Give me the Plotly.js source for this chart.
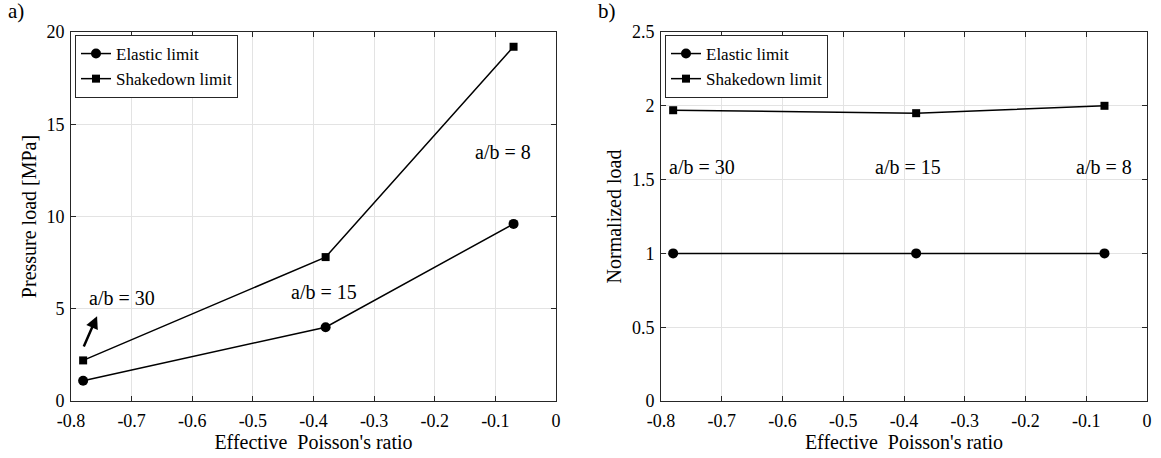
<!DOCTYPE html>
<html><head><meta charset="utf-8">
<script src="https://cdn.plot.ly/plotly-3.0.1.min.js"></script>
<style>body{margin:0;background:#fff}#c{width:1161px;height:458px}</style>
</head><body><div id="c"></div>
<script>
const poisson = [-0.78, -0.38, -0.07];
const elasticLoad = [1.1, 4.0, 9.6];
const shakedownLoad = [2.2, 7.8, 19.2];
const elasticNorm = [1, 1, 1];
const shakedownNorm = [1.97, 1.95, 2.0];
const ratioLabels = ['a/b = 30', 'a/b = 15', 'a/b = 8'];
const xTicks = [-0.8, -0.7, -0.6, -0.5, -0.4, -0.3, -0.2, -0.1, 0];
const xTickText = ['-0.8', '-0.7', '-0.6', '-0.5', '-0.4', '-0.3', '-0.2', '-0.1', '0'];

const font = 'Liberation Serif, Tinos, DejaVu Serif, serif';
const lineS = {color:'#000', width:1.5};
const traces = [
  {x:poisson, y:elasticLoad, mode:'lines+markers', name:'Elastic limit', line:lineS, marker:{symbol:'circle', size:10, color:'#000'}, xaxis:'x', yaxis:'y', legend:'legend'},
  {x:poisson, y:shakedownLoad, mode:'lines+markers', name:'Shakedown limit', line:lineS, marker:{symbol:'square', size:8, color:'#000'}, xaxis:'x', yaxis:'y', legend:'legend'},
  {x:poisson, y:elasticNorm, mode:'lines+markers', name:'Elastic limit', line:lineS, marker:{symbol:'circle', size:10, color:'#000'}, xaxis:'x2', yaxis:'y2', legend:'legend2'},
  {x:poisson, y:shakedownNorm, mode:'lines+markers', name:'Shakedown limit', line:lineS, marker:{symbol:'square', size:8, color:'#000'}, xaxis:'x2', yaxis:'y2', legend:'legend2'}
];
const W = 1161;
const axBase = {showline:true, linecolor:'#262626', linewidth:1, mirror:'ticks', ticks:'inside', ticklen:5, tickcolor:'#262626', showgrid:true, gridcolor:'#e3e3e3', zeroline:false, tickfont:{family:font, size:18, color:'#000'}};
const xBase = Object.assign({}, axBase, {range:[-0.8, 0], tickvals:xTicks, ticktext:xTickText, ticklabelstandoff:3, title:{text:'Effective\u00a0 Poisson\'s ratio', font:{family:font, size:20, color:'#000'}, standoff:0}});
const legBase = {bordercolor:'#262626', borderwidth:1, bgcolor:'#fff', font:{family:font, size:17, color:'#000'}, tracegroupgap:0, itemwidth:30, xanchor:'left', yanchor:'top', xref:'paper', yref:'paper'};
const annFont = {family:font, size:20, color:'#000'};
const layout = {
  width:1161, height:458, paper_bgcolor:'#fff', plot_bgcolor:'#fff',
  margin:{l:0, r:0, t:32, b:57},
  font:{family:font, color:'#000'},
  xaxis: Object.assign({}, xBase, {domain:[71/W, 556/W], anchor:'y'}),
  yaxis: Object.assign({}, axBase, {range:[0, 20], tickvals:[0,5,10,15,20], anchor:'x', ticklabelstandoff:2, title:{text:'Pressure load [MPa]', font:{family:font, size:20, color:'#000'}, standoff:4}}),
  xaxis2: Object.assign({}, xBase, {domain:[661/W, 1147/W], anchor:'y2'}),
  yaxis2: Object.assign({}, axBase, {range:[0, 2.5], anchor:'x2', ticklabelstandoff:2, tickvals:[0,0.5,1,1.5,2,2.5], ticktext:['0','0.5','1','1.5','2','2.5'], title:{text:'Normalized load', font:{family:font, size:20, color:'#000'}, standoff:4}}),
  legend: Object.assign({}, legBase, {x:75/W, y:1-(35-32)/369}),
  legend2: Object.assign({}, legBase, {x:665/W, y:1-(35-32)/369}),
  showlegend:true,
  annotations:[
    {text:'a)', xref:'paper', yref:'paper', x:6/W, y:1+(32-11)/369, xanchor:'left', yanchor:'middle', showarrow:false, font:{family:font, size:21, color:'#000'}},
    {text:'b)', xref:'paper', yref:'paper', x:596/W, y:1+(32-11)/369, xanchor:'left', yanchor:'middle', showarrow:false, font:{family:font, size:21, color:'#000'}},
    {text:ratioLabels[0], xref:'x', yref:'y', x:-0.773, y:5.58, xanchor:'left', yanchor:'middle', showarrow:false, font:annFont},
    {text:ratioLabels[1], xref:'x', yref:'y', x:-0.382, y:5.9, xanchor:'center', yanchor:'middle', showarrow:false, font:annFont},
    {text:ratioLabels[2], xref:'x', yref:'y', x:-0.088, y:13.5, xanchor:'center', yanchor:'middle', showarrow:false, font:annFont},
    {text:'', xref:'x', yref:'y', axref:'x', ayref:'y', x:-0.757, y:4.6, ax:-0.780, ay:2.87, showarrow:true, arrowhead:2, arrowsize:1, arrowwidth:2.5, arrowcolor:'#000'},
    {text:ratioLabels[0], xref:'x2', yref:'y2', x:-0.79, y:1.585, xanchor:'left', yanchor:'middle', showarrow:false, font:annFont},
    {text:ratioLabels[1], xref:'x2', yref:'y2', x:-0.393, y:1.585, xanchor:'center', yanchor:'middle', showarrow:false, font:annFont},
    {text:ratioLabels[2], xref:'x2', yref:'y2', x:-0.07, y:1.585, xanchor:'center', yanchor:'middle', showarrow:false, font:annFont}
  ]
};
Plotly.newPlot('c', traces, layout, {displayModeBar:false, staticPlot:true});
</script></body></html>
